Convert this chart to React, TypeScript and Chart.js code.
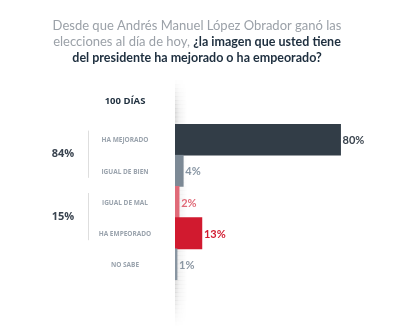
import React, { useEffect, useRef } from "react";
import { Chart, registerables } from "chart.js";

Chart.register(...registerables);

const categories = ["HA MEJORADO", "IGUAL DE BIEN", "IGUAL DE MAL", "HA EMPEORADO", "NO SABE"];
const values = [80, 4, 2, 13, 1];
const barColors = ["#323d47", "#7c8995", "#e06a78", "#d11a2f", "#8895a1"];
const labelColors = ["#3a444e", "#8795a3", "#e06a78", "#d11a2f", "#8a96a2"];
const groupLabels = ["84%", "15%"];
const groupRanges = [[0, 1], [2, 3]];
const periodLabel = "100 DÍAS";
// title runs: [text, bold]
const titleLines: [string, boolean][][] = [
  [["Desde que Andrés Manuel López Obrador ganó las", false]],
  [["elecciones al día de hoy, ", false], ["¿la imagen que usted tiene", true]],
  [["del presidente ha mejorado o ha empeorado?", true]],
];

const FONT = '"Open Sans", "Noto Sans", sans-serif';
const TFONT = 'Lato, "Open Sans", sans-serif';

const overlay = {
  id: "overlay",
  beforeDatasetsDraw(chart: any) {
    const { ctx, chartArea } = chart;
    const x0 = chartArea.left;
    ctx.save();
    const steps = 60;
    const top = 80;
    const bottom = 325;
    const h = (bottom - top) / steps;
    for (let i = 0; i < steps; i++) {
      const yc = top + (i + 0.5) * h;
      let f = 1;
      if (yc < 110) f = (yc - top) / 30;
      if (yc > 285) f = (bottom - yc) / 40;
      const a = 0.13 * Math.max(0, Math.min(1, f));
      const gg = ctx.createLinearGradient(x0, 0, x0 + 12, 0);
      gg.addColorStop(0, `rgba(0,0,0,${a})`);
      gg.addColorStop(0.35, `rgba(0,0,0,${a * 0.35})`);
      gg.addColorStop(1, "rgba(0,0,0,0)");
      ctx.fillStyle = gg;
      ctx.fillRect(x0, top + i * h, 12, h + 0.5);
    }
    ctx.restore();
  },
  afterDraw(chart: any) {
    const { ctx, scales } = chart;
    const xs = scales.x;
    const ys = scales.y;
    ctx.save();
    // title
    let ty = 26;
    ctx.textBaseline = "middle";
    const fontFor = (b: boolean) => (b ? `bold 12.5px ${TFONT}` : `13px ${TFONT}`);
    for (const line of titleLines) {
      let total = 0;
      const widths: number[] = [];
      for (const [t, b] of line) {
        ctx.font = fontFor(b);
        const w = ctx.measureText(t).width;
        widths.push(w);
        total += w;
      }
      let x = 197 - total / 2;
      line.forEach(([t, b], i) => {
        ctx.font = fontFor(b);
        ctx.fillStyle = b ? "#1e2f3f" : "#9ba1a8";
        ctx.textAlign = "left";
        ctx.fillText(t, x, ty);
        x += widths[i];
      });
      ty += 16;
    }
    // period label
    ctx.font = `bold 9.5px ${FONT}`;
    ctx.fillStyle = "#1f2f3e";
    ctx.textAlign = "center";
    ctx.fillText(periodLabel, 125, 101);
    // category labels + values
    categories.forEach((c, i) => {
      const y = ys.getPixelForValue(i);
      ctx.font = `bold 6.5px ${FONT}`;
      ctx.fillStyle = "#9aa3ad";
      ctx.textAlign = "center";
      ctx.fillText(c, 125, y + 1);
      ctx.font = `bold 11px ${TFONT}`;
      ctx.fillStyle = labelColors[i];
      ctx.textAlign = "left";
      ctx.fillText(values[i] + "%", xs.getPixelForValue(values[i]) + 2, y + 1);
    });
    // groups
    groupLabels.forEach((g, i) => {
      const [a, b] = groupRanges[i];
      const ya = ys.getPixelForValue(a);
      const yb = ys.getPixelForValue(b);
      ctx.strokeStyle = "#dedede";
      ctx.lineWidth = 1;
      ctx.beginPath();
      ctx.moveTo(88.5, ya - 9);
      ctx.lineTo(88.5, yb + 7);
      ctx.stroke();
      ctx.font = `bold 11px ${FONT}`;
      ctx.fillStyle = "#3a4450";
      ctx.textAlign = "center";
      ctx.fillText(g, 63, (ya + yb) / 2 - 1);
    });
    ctx.restore();
  },
};

export default function App() {
  const ref = useRef<HTMLCanvasElement>(null);
  useEffect(() => {
    document.body.style.margin = "0";
    const chart = new Chart(ref.current!, {
      type: "bar",
      data: {
        labels: categories,
        datasets: [
          {
            data: values,
            backgroundColor: barColors,
            borderWidth: 0,
            barPercentage: 1,
            categoryPercentage: 1,
          },
        ],
      },
      options: {
        indexAxis: "y",
        animation: false,
        responsive: false,
        layout: { padding: { left: 175, right: 15, top: 124, bottom: 53 } },
        plugins: { legend: { display: false }, tooltip: { enabled: false } },
        scales: {
          x: { display: false, min: 0, max: 100 },
          y: { display: false },
        },
      },
      plugins: [overlay],
    });
    return () => chart.destroy();
  }, []);
  return <canvas ref={ref} width={397} height={333} style={{ display: "block" }} />;
}
